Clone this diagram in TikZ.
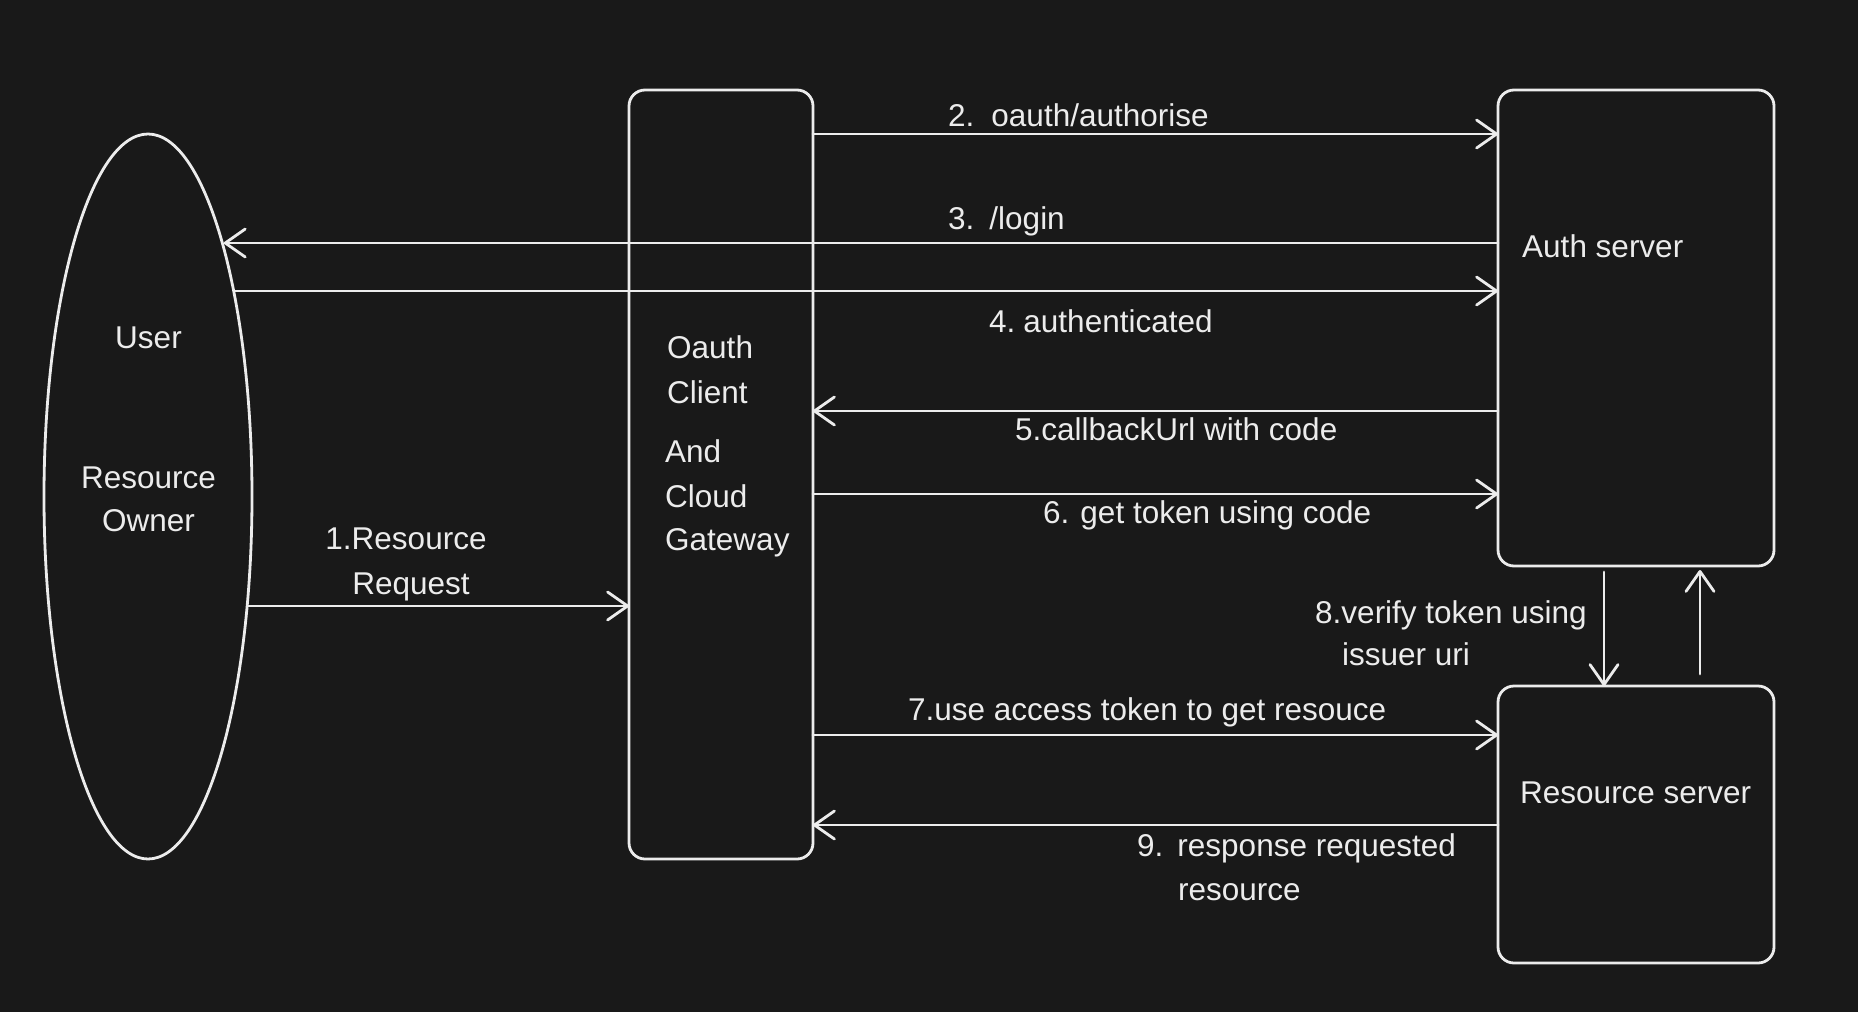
\documentclass[tikz,border=0pt]{standalone}
\usepackage{fontspec}
\setmainfont{Liberation Sans}
\usetikzlibrary{shapes.geometric,arrows.meta,calc}
\definecolor{bg}{RGB}{25,25,25}
\definecolor{fg}{RGB}{236,236,236}
\begin{document}
\begin{tikzpicture}[x=1pt,y=1pt,
  every node/.style={font=\fontsize{31.5}{44.5}\selectfont, text=fg},
  shapebox/.style={draw=fg, line width=2.8pt, rounded corners=16pt, inner sep=0pt, outer sep=0pt},
  arr/.style={draw=fg, line width=2.8pt, line cap=round, -{Straight Barb[length=20pt,width=28pt,round]}},
  lbl/.style={anchor=base west, inner sep=0pt},
  clbl/.style={anchor=base, inner sep=0pt},
]
\fill[bg] (0,0) rectangle (1858,-1012);
\useasboundingbox (0,0) rectangle (1858,-1012);

% shapes
\node[ellipse, draw=fg, line width=2.8pt, minimum width=208pt, minimum height=725pt, inner sep=0pt, outer sep=0pt] (user) at (148,-496.5) {};
\node[shapebox, minimum width=184pt, minimum height=769pt] (gw) at (721,-474.5) {};
\node[shapebox, minimum width=276pt, minimum height=476pt] (auth) at (1636,-328) {};
\node[shapebox, minimum width=276pt, minimum height=277pt] (res) at (1636,-824.5) {};

% node texts
\node[clbl] (tuser) at (148.5,-348) {User};
\node[clbl] (tresa) at (148.5,-488) {Resource};
\node[clbl] (tresb) at (148.5,-531.5) {Owner};
\node[lbl] (tgwa) at (667,-358.5) {Oauth};
\node[lbl] (tgwb) at (667,-403) {Client};
\node[lbl] (tgwc) at (665,-462.6) {And};
\node[lbl] (tgwd) at (665,-507) {Cloud};
\node[lbl] (tgwe) at (665,-550) {Gateway};
\node[lbl] (tauth) at (1522,-257) {Auth server};
\node[lbl] (tres) at (1520,-803) {Resource server};

% row coordinates
\coordinate (r1) at (0,-606);
\coordinate (r2) at (0,-134);
\coordinate (r3) at (0,-243);
\coordinate (r4) at (0,-291);
\coordinate (r5) at (0,-411);
\coordinate (r6) at (0,-494);
\coordinate (r7) at (0,-735);
\coordinate (r9) at (0,-825);
\coordinate (c8a) at (1604,0);
\coordinate (c8b) at (1700,0);

% connectors
\draw[arr] (r1 -| user.-47.85) -- (gw.west |- r1);
\draw[arr] (gw.east |- r2) -- (auth.west |- r2);
\draw[arr] (auth.west |- r3) -- (r3 -| user.73.73);
\draw[arr] (r4 -| user.67.36) -- (auth.west |- r4);
\draw[arr] (auth.west |- r5) -- (gw.east |- r5);
\draw[arr] (gw.east |- r6) -- (auth.west |- r6);
\draw[arr] (gw.east |- r7) -- (res.west |- r7);
\draw[arr] ($(auth.south -| c8a)+(0,-6)$) -- (res.north -| c8a);
\draw[arr] ($(res.north -| c8b)+(0,12)$) -- ($(auth.south -| c8b)+(0,-4)$);
\draw[arr] (res.west |- r9) -- (gw.east |- r9);

% connector labels
\node[clbl] (l1a) at (406,-549) {1.Resource};
\node[clbl] (l1b) at (411,-594) {Request};
\node[lbl] (l2) at (948,-126) {2.\hspace{17pt}oauth/authorise};
\node[lbl] (l3) at (948,-229) {3.\hspace{15pt}/login};
\node[lbl] (l4) at (989,-332.5) {4.\hspace{8pt}authenticated};
\node[lbl] (l5) at (1015,-440) {5.callbackUrl with code};
\node[lbl] (l6) at (1043,-523) {6.\hspace{11pt}get token using code};
\node[lbl] (l7) at (908,-720.7) {7.use access token to get resouce};
\node[lbl] (l8a) at (1315,-623) {8.verify token using};
\node[lbl] (l8b) at (1342,-665) {issuer uri};
\node[lbl] (l9a) at (1137,-856) {9.\hspace{14pt}response requested};
\node[lbl] (l9b) at (1178,-900) {resource};
\end{tikzpicture}
\end{document}
